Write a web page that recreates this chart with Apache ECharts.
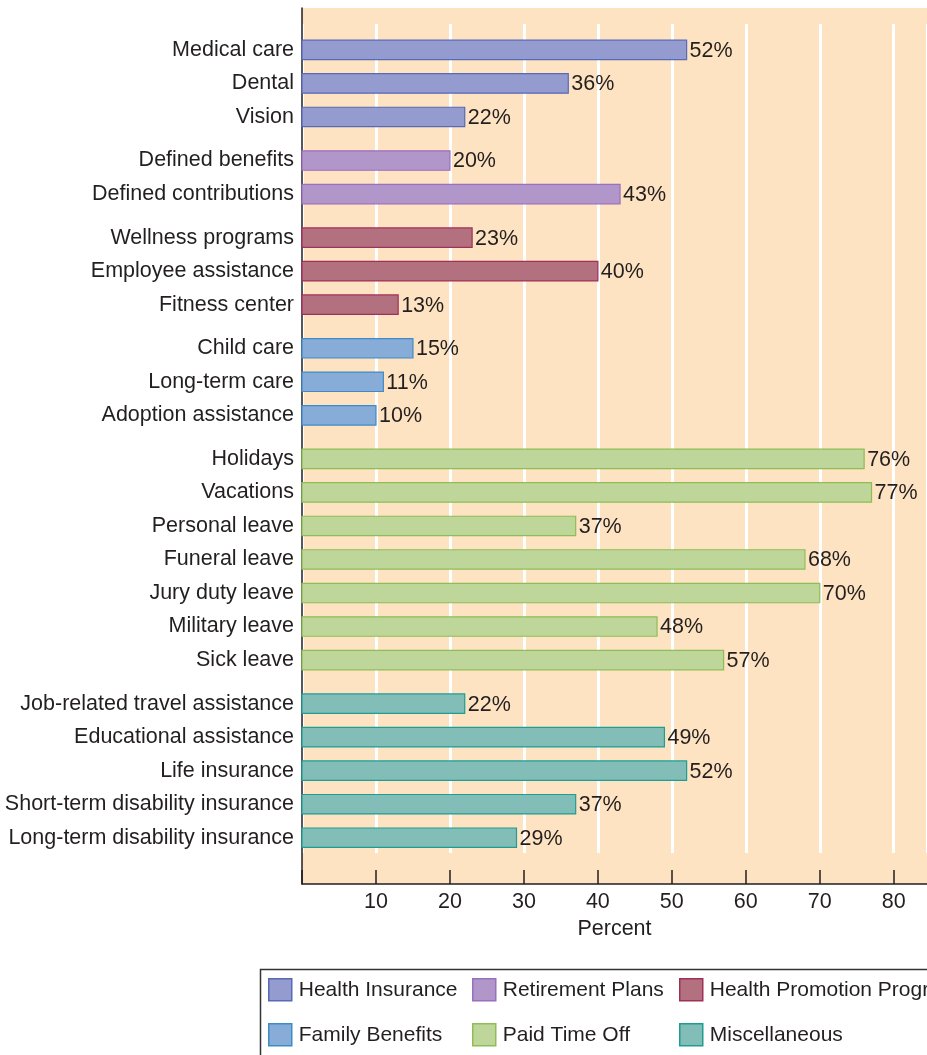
<!DOCTYPE html>
<html>
<head>
<meta charset="utf-8">
<script src="https://cdn.jsdelivr.net/npm/echarts@6/dist/echarts.min.js"></script>
<style>
html, body { margin: 0; padding: 0; background: #fff; }
#main { width: 927px; height: 1055px; }
</style>
</head>
<body>
<div id="main"></div>
<script>
// benefit names, top to bottom
var categories = [
  'Medical care', 'Dental', 'Vision',
  'Defined benefits', 'Defined contributions',
  'Wellness programs', 'Employee assistance', 'Fitness center',
  'Child care', 'Long-term care', 'Adoption assistance',
  'Holidays', 'Vacations', 'Personal leave', 'Funeral leave', 'Jury duty leave', 'Military leave', 'Sick leave',
  'Job-related travel assistance', 'Educational assistance', 'Life insurance',
  'Short-term disability insurance', 'Long-term disability insurance'
];
// percent of employers offering it
var values = [52, 36, 22, 20, 43, 23, 40, 13, 15, 11, 10, 76, 77, 37, 68, 70, 48, 57, 22, 49, 52, 37, 29];
// which group each row belongs to
var groupOf = [0, 0, 0, 1, 1, 2, 2, 2, 3, 3, 3, 4, 4, 4, 4, 4, 4, 4, 5, 5, 5, 5, 5];
var groupNames = ['Health Insurance', 'Retirement Plans', 'Health Promotion Programs',
                  'Family Benefits', 'Paid Time Off', 'Miscellaneous'];
var xTicks = [10, 20, 30, 40, 50, 60, 70, 80];

var fills   = ['#939bcf', '#b197c9', '#b3707e', '#86acd7', '#bfd69a', '#82bdb8'];
var borders = ['#5a68b8', '#9a6fbf', '#a0305a', '#3f8bc6', '#8ebd55', '#1e9e93'];
var FONT = 'Liberation Sans, Arial, Helvetica, sans-serif';
var FS = 21.5;
var TXT = '#231f20';
var GROUP_GAP = 0.3; // extra space between groups, in rows

// row position on the y value axis
var positions = categories.map(function (c, i) { return i + GROUP_GAP * groupOf[i]; });

function nameAt(v) {
  for (var i = 0; i < positions.length; i++) {
    if (Math.abs(positions[i] - v) < 1e-4) return categories[i];
  }
  return '';
}

function renderBar(params, api) {
  var v = api.value(0), p = api.value(1);
  var a = api.coord([0, p]);
  var b = api.coord([v, p]);
  var h = api.size([0, 0.58])[1];
  var g = params.seriesIndex;
  return {
    type: 'group',
    children: [
      {
        type: 'rect',
        shape: { x: a[0], y: a[1] - h / 2, width: b[0] - a[0], height: h },
        style: { fill: fills[g], stroke: borders[g], lineWidth: 1.2 }
      },
      {
        type: 'text',
        x: b[0] + 3, y: b[1] + 1,
        style: { text: v + '%', fill: TXT, font: FS + 'px ' + FONT, textVerticalAlign: 'middle', verticalAlign: 'middle' }
      }
    ]
  };
}

var series = groupNames.map(function (name, g) {
  var d = [];
  values.forEach(function (v, i) { if (groupOf[i] === g) d.push([v, positions[i]]); });
  return {
    name: name,
    type: 'custom',
    xAxisIndex: 0,
    yAxisIndex: 0,
    itemStyle: { color: fills[g], borderColor: borders[g] },
    encode: { x: 0, y: 1 },
    renderItem: renderBar,
    data: d,
    z: 5
  };
});

// one legend per item so the columns line up like the printed key
var legendCols = [268, 472, 679];
var legendRows = [978, 1023];
var legends = groupNames.map(function (n, g) {
  return {
    left: legendCols[g % 3],
    top: legendRows[Math.floor(g / 3)],
    width: 1000,
    itemWidth: 23,
    itemHeight: 22,
    icon: 'rect',
    padding: 0,
    selectedMode: false,
    textStyle: { fontFamily: FONT, fontSize: 21, color: TXT, padding: [0, 0, 0, 2] },
    data: [{ name: n, itemStyle: { color: fills[g], borderColor: borders[g], borderWidth: 1.5 } }]
  };
});

var option = {
  animation: false,
  backgroundColor: '#ffffff',
  grid: [
    { left: 302, top: 8, right: 0, height: 876, show: true, backgroundColor: '#fde3c1', borderWidth: 0 },
    { left: 302, top: 24, right: 0, height: 829 }
  ],
  xAxis: [
    {
      type: 'value', gridIndex: 0, min: 0, max: 84.5, interval: 10,
      axisLine: { show: true, onZero: false, lineStyle: { color: '#231f20', width: 1.5 } },
      axisTick: { show: true, inside: true, length: 14, lineStyle: { color: '#231f20', width: 1.5 } },
      axisLabel: {
        fontFamily: FONT, fontSize: FS, color: TXT, margin: 7, showMaxLabel: false,
        formatter: function (v) { return xTicks.indexOf(v) >= 0 ? String(v) : ''; }
      },
      splitLine: { show: false },
      name: 'Percent', nameLocation: 'middle', nameGap: 31,
      nameTextStyle: { fontFamily: FONT, fontSize: FS, color: TXT }
    },
    {
      type: 'value', gridIndex: 1, min: 0, max: 84.5, interval: 10,
      axisLine: { show: false }, axisTick: { show: false }, axisLabel: { show: false },
      splitLine: { show: true, lineStyle: { color: '#ffffff', width: 3 } }
    }
  ],
  yAxis: [
    {
      type: 'value', gridIndex: 0, inverse: true, min: -1.25, max: 24.88,
      axisLine: { show: true, onZero: false, lineStyle: { color: '#231f20', width: 1.5 } },
      axisTick: { show: false },
      splitLine: { show: false },
      axisLabel: {
        customValues: positions,
        formatter: nameAt,
        fontFamily: FONT, fontSize: FS, color: TXT, margin: 8
      }
    },
    {
      type: 'value', gridIndex: 1, show: false, splitLine: { show: false }
    }
  ],
  legend: legends,
  graphic: [
    {
      type: 'rect', left: 258, top: 967,
      shape: { width: 720, height: 110 },
      style: { fill: 'none', stroke: '#333333', lineWidth: 1.5 }
    }
  ],
  series: series
};

var chart = echarts.init(document.getElementById('main'), null, { renderer: 'canvas' });
chart.setOption(option);
window.onresize = chart.resize;
</script>
</body>
</html>
